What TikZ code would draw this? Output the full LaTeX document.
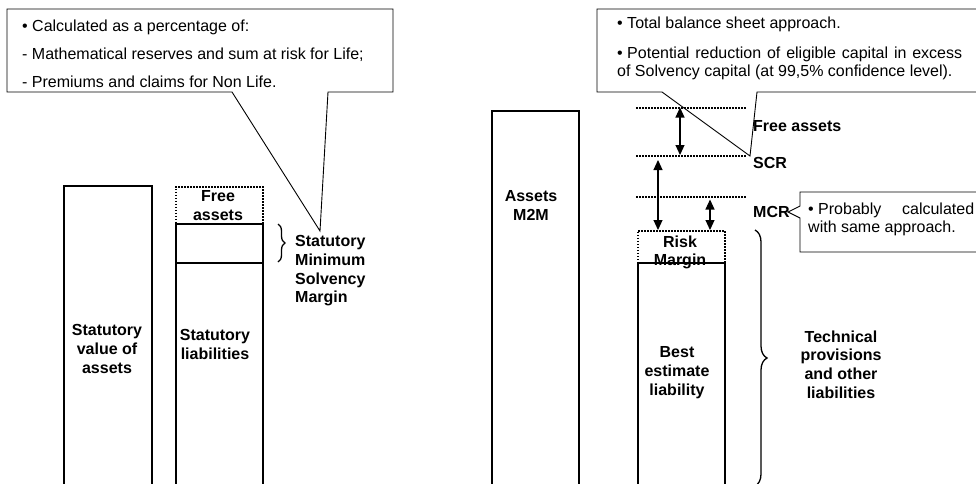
\documentclass[tikz,border=0pt]{standalone}
\usepackage{fontspec}
\setmainfont{Liberation Sans}
\usetikzlibrary{arrows.meta,decorations.pathreplacing}

\begin{document}
\begin{tikzpicture}[x=1pt,y=-1pt,
  txt/.style={font=\fontsize{16}{18.5}\selectfont, inner sep=0pt},
  lbl/.style={font=\fontsize{16}{18.7}\selectfont\bfseries, inner sep=0pt, align=center},
  bar/.style={draw, line width=1.8pt, inner sep=0pt, minimum width=87pt},
  dotbox/.style={draw, line width=1.6pt, dash pattern=on 1.6pt off 1.4pt, inner sep=0pt, minimum width=87pt},
  guide/.style={line width=1.5pt, dash pattern=on 1.5pt off 1.5pt},
  callout/.style={draw, line width=0.9pt, line join=miter},
  dimarrow/.style={line width=1.1pt, {Triangle[width=9pt,length=10pt]}-{Triangle[width=9pt,length=10pt]}},
  brc/.style={decorate, decoration={brace, amplitude=#1}, line width=1.3pt}
]
\useasboundingbox (0,0) rectangle (976,483);

% ---------- Solvency I balance sheet ----------
\node[bar, anchor=north west, minimum width=88pt, minimum height=310pt] (sva) at (63,185) {};
\node[dotbox, anchor=north west, minimum height=37pt] (sfa) at (175,186) {};
\node[bar, anchor=north west, minimum height=39pt] (smsm) at (175,223) {};
\node[bar, anchor=north west, minimum height=240pt] (sl) at (175,262) {};

\draw[brc=7pt] (278,224) -- (278,262);

\node[lbl, anchor=north] (tfa) at (218,190.4) {Free\\assets};
\node[lbl, anchor=north west, align=left] (tsmsm) at (295,235.4) {Statutory\\Minimum\\Solvency\\Margin};
\node[lbl, anchor=north] (tsva) at (107,324.4) {Statutory\\value of\\assets};
\node[lbl, anchor=north] (tsl) at (215,329.4) {Statutory\\liabilities};

% callout on the minimum margin
\coordinate (tipA) at (320,231);
\draw[callout] (232,92) -- (7,92) -- (7,9) -- (393,9) -- (393,92) -- (328,92) -- (tipA) -- cycle;
\node[txt, anchor=base west] (ca1) at (22,31) {• Calculated as a percentage of:};
\node[txt, anchor=base west] (ca2) at (22,59.5) {- Mathematical reserves and sum at risk for Life;};
\node[txt, anchor=base west] (ca3) at (22,87) {- Premiums and claims for Non Life.};

% ---------- Solvency II balance sheet ----------
\node[bar, anchor=north west, minimum height=390pt] (am) at (491,110) {};
\node[dotbox, anchor=north west, minimum height=32pt] (rm) at (637,230) {};
\node[bar, anchor=north west, minimum height=240pt] (bel) at (637,262) {};

% capital levels
\coordinate (g1w) at (636,108); \coordinate (g1e) at (746,108);
\coordinate (g2w) at (636,156); \coordinate (g2e) at (746,156);
\coordinate (g3w) at (636,197); \coordinate (g3e) at (746,197);
\draw[guide] (g1w) -- (g1e);
\draw[guide] (g2w) -- (g2e);
\draw[guide] (g3w) -- (g3e);

\coordinate (fa1) at (680,107.5); \coordinate (fa2) at (680,155);
\coordinate (scr1) at (658,160); \coordinate (scr2) at (658,230);
\coordinate (mcr1) at (710,199.5); \coordinate (mcr2) at (710,230);
\draw[dimarrow] (fa1) -- (fa2);
\draw[dimarrow] (scr1) -- (scr2);
\draw[dimarrow] (mcr1) -- (mcr2);

\draw[brc=12pt] (755,230) -- (755,486);

\node[lbl, anchor=north] (tam) at (531,190.4) {Assets\\M2M};
\node[lbl, anchor=north, font=\fontsize{16}{18}\selectfont\bfseries] (trm) at (680,235.4) {Risk\\Margin};
\node[lbl, anchor=north] (tbel) at (677,346.4) {Best\\estimate\\liability};
\node[lbl, anchor=north] (ttp) at (841,330.4) {Technical\\provisions\\and other\\liabilities};
\node[lbl, anchor=base west] (tfree) at (753,131) {Free assets};
\node[lbl, anchor=base west] (tscr) at (753,168) {SCR};
\node[lbl, anchor=base west] (tmcr) at (753,217) {MCR};

% callout on the SCR (its right side runs past the page edge)
\coordinate (tipB) at (750,156);
\draw[callout] (985,92) -- (757,92) -- (tipB) -- (662,92) -- (597,92) -- (597,9) -- (985,9);
\node[txt, anchor=base west] (cb1) at (617,28) {• Total balance sheet approach.};
\node[txt, anchor=north west, text width=345pt, align=justify] (cb2) at (617,46.4)
  {\mbox{• Potential} reduction of eligible capital in excess\linebreak of Solvency capital (at 99,5\% confidence level).};

% callout on the MCR
\coordinate (tipC) at (788,212);
\draw[callout] (985,192) -- (800,192) -- (800,206) -- (tipC) -- (800,218) -- (800,252) -- (985,252);
\node[txt, anchor=north west, text width=166pt, align=justify] (cc) at (808,202.4)
  {\mbox{• Probably} calculated\linebreak with same approach.};
\end{tikzpicture}
\end{document}
